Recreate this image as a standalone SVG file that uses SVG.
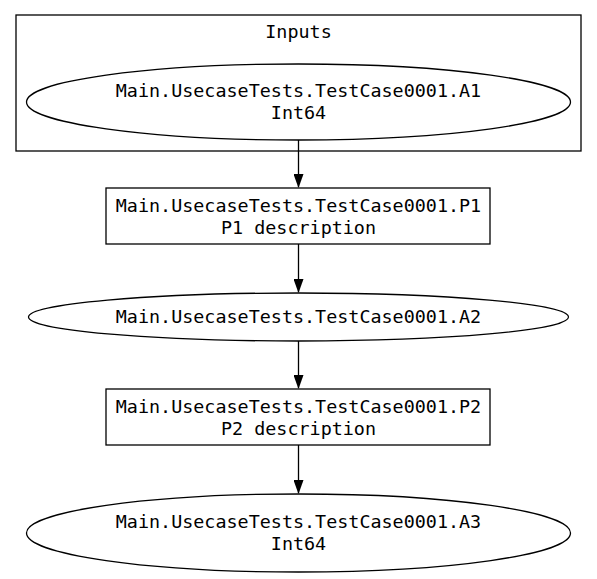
<svg xmlns="http://www.w3.org/2000/svg" width="597" height="579" viewBox="0 0 597 579">
<defs>
<style>
text{font-family:"DejaVu Sans Mono","Liberation Mono",monospace;font-size:18.4px;fill:#000;text-anchor:middle}
.s{fill:#fff;stroke:#000;stroke-width:1.3}
.e{fill:none;stroke:#000;stroke-width:1.3}
</style>
<marker id="ah" markerWidth="14" markerHeight="10" refX="13" refY="5" orient="auto" markerUnits="userSpaceOnUse"><path d="M0,0 L14,5 L0,10 z" fill="#000"/></marker>
</defs>
<rect width="597" height="579" fill="#fff"/>
<g id="cluster_inputs">
<rect class="s" x="16" y="15" width="565" height="136"/>
<text x="298.5" y="38">Inputs</text>
</g>
<g id="connectors">
<line class="e" x1="298.5" y1="140" x2="298.5" y2="187" marker-end="url(#ah)"/>
<line class="e" x1="298.5" y1="244" x2="298.5" y2="292" marker-end="url(#ah)"/>
<line class="e" x1="298.5" y1="341" x2="298.5" y2="388" marker-end="url(#ah)"/>
<line class="e" x1="298.5" y1="445" x2="298.5" y2="493" marker-end="url(#ah)"/>
</g>
<g id="A1">
<ellipse class="s" cx="298.5" cy="102" rx="272" ry="38"/>
<text x="298.5" y="97">Main.UsecaseTests.TestCase0001.A1</text>
<text x="298.5" y="119">Int64</text>
</g>
<g id="P1">
<rect class="s" x="106" y="188" width="384" height="56"/>
<text x="298.5" y="212">Main.UsecaseTests.TestCase0001.P1</text>
<text x="298.5" y="234">P1 description</text>
</g>
<g id="A2">
<ellipse class="s" cx="298.5" cy="317" rx="270" ry="24"/>
<text x="298.5" y="323">Main.UsecaseTests.TestCase0001.A2</text>
</g>
<g id="P2">
<rect class="s" x="106" y="389" width="384" height="56"/>
<text x="298.5" y="413">Main.UsecaseTests.TestCase0001.P2</text>
<text x="298.5" y="435">P2 description</text>
</g>
<g id="A3">
<ellipse class="s" cx="298.5" cy="533" rx="272" ry="39"/>
<text x="298.5" y="528">Main.UsecaseTests.TestCase0001.A3</text>
<text x="298.5" y="550">Int64</text>
</g>
</svg>
